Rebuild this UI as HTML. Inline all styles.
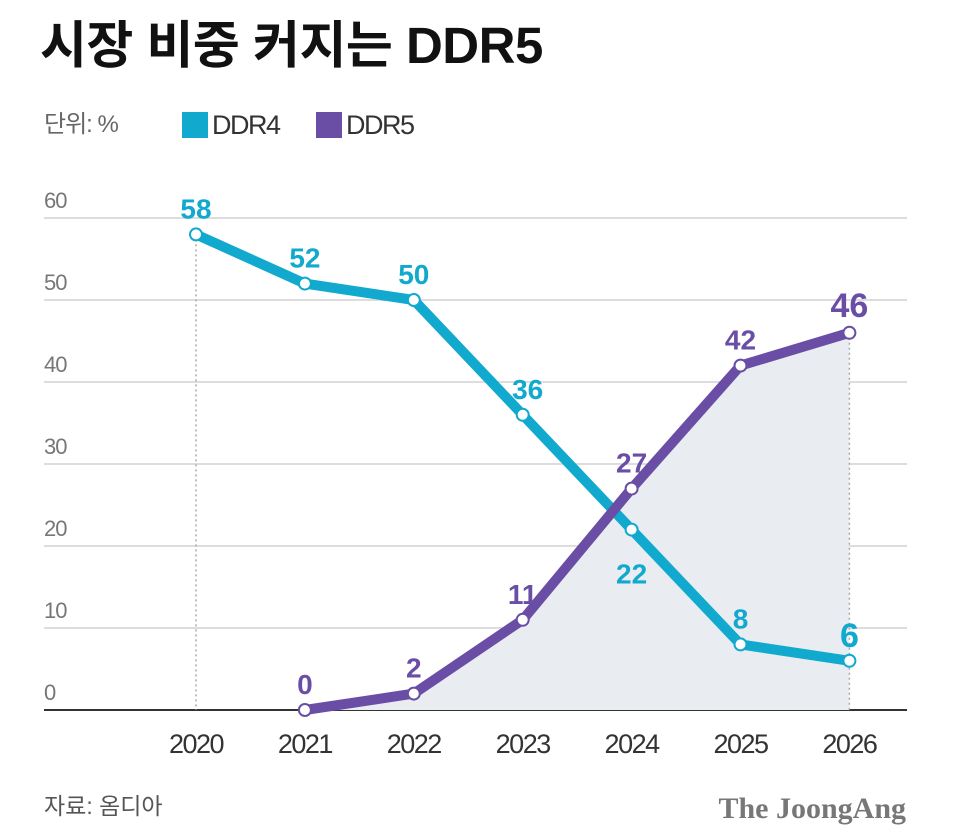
<!DOCTYPE html>
<html><head><meta charset="utf-8"><style>
body{margin:0;background:#fff;width:960px;height:834px;overflow:hidden;font-family:"Liberation Sans","Noto Sans CJK KR",sans-serif}
</style></head><body>
<svg id="chart" width="960" height="834" xmlns="http://www.w3.org/2000/svg" font-family="Liberation Sans, Noto Sans CJK KR, sans-serif">
<text x="40" y="63" font-size="51" font-weight="bold" fill="#111" letter-spacing="-0.5">시장 비중 커지는 DDR5</text>
<text x="44" y="132" font-size="24" fill="#666" letter-spacing="-1">단위: %</text>
<rect x="182" y="112" width="26" height="26" fill="#12a9cf"/>
<text x="212" y="134" font-size="27" fill="#333" letter-spacing="-1.5">DDR4</text>
<rect x="316" y="112" width="26" height="26" fill="#6a4ea6"/>
<text x="346" y="134" font-size="27" fill="#333" letter-spacing="-1.5">DDR5</text>
<g id="plot"></g>
<text x="44" y="814" font-size="23" fill="#555">자료: 옴디아</text>
<text x="906" y="818" font-size="30" font-weight="bold" fill="#777" text-anchor="end" font-family="Liberation Serif, serif">The JoongAng</text>
</svg>
<script>
const years = ["2020","2021","2022","2023","2024","2025","2026"];
const ddr4 = [58,52,50,36,22,8,6];
const ddr5 = [null,0,2,11,27,42,46];
const yTicks = [0,10,20,30,40,50,60];
const NS="http://www.w3.org/2000/svg";
const g=document.getElementById('plot');
const x0=196,xStep=108.9,y0=710,yPer=8.2;
const X=i=>x0+i*xStep, Y=v=>y0-v*yPer;
function mk(t,a){const e=document.createElementNS(NS,t);for(const k in a)e.setAttribute(k,a[k]);g.appendChild(e);return e;}
yTicks.forEach(v=>{
 const l=mk('line',{x1:44,x2:907,y1:Y(v),y2:Y(v),stroke:v===0?'#333':'#ddd','stroke-width':2});
 
 
 const t=mk('text',{x:44,y:Y(v)-10,'font-size':22,fill:'#777','letter-spacing':'-1'});t.textContent=v;
 
 
});
years.forEach((yr,i)=>{
 const t=mk('text',{x:X(i),y:753,'font-size':27,fill:'#333','text-anchor':'middle','letter-spacing':'-1.5'});t.textContent=yr;
 
 
});
let pts=[];ddr5.forEach((v,i)=>{if(v!==null)pts.push([X(i),Y(v)]);});
const area=mk('polygon',{points:pts.map(p=>p.join(',')).join(' ')+` ${pts[pts.length-1][0]},${y0} ${pts[0][0]},${y0}`,fill:'#e9edf1'});


[[0,ddr4[0]],[6,ddr5[6]]].forEach(([i,v])=>{
 const l=mk('line',{x1:X(i),x2:X(i),y1:Y(v),y2:y0,stroke:'#aaa','stroke-width':1.5,'stroke-dasharray':'2,3'});
 
 
});
function series(data,color,name,labelOff,dx){
 const p=[];data.forEach((v,i)=>{if(v!==null)p.push([X(i),Y(v)]);});
 const pl=mk('polyline',{points:p.map(q=>q.join(',')).join(' '),fill:'none',stroke:color,'stroke-width':10,'stroke-linejoin':'round','stroke-linecap':'round'});
 
 
 data.forEach((v,i)=>{if(v===null)return;
  const c=mk('circle',{cx:X(i),cy:Y(v),r:6,fill:'#fff',stroke:color,'stroke-width':2});
  
  
  const big=i===6;
  const t=mk('text',{x:X(i)+dx(i),y:Y(v)+labelOff(i),'font-size':big?34:28,'font-weight':'bold',fill:color,'text-anchor':'middle'});t.textContent=v;
  
  
 });
}
series(ddr4,'#12a9cf','ddr4',i=>i===4?54:(i===6?-14:-16),i=>i===3?5:0);
series(ddr5,'#6a4ea6','ddr5',i=>-16,i=>0);
</script>
</body></html>
